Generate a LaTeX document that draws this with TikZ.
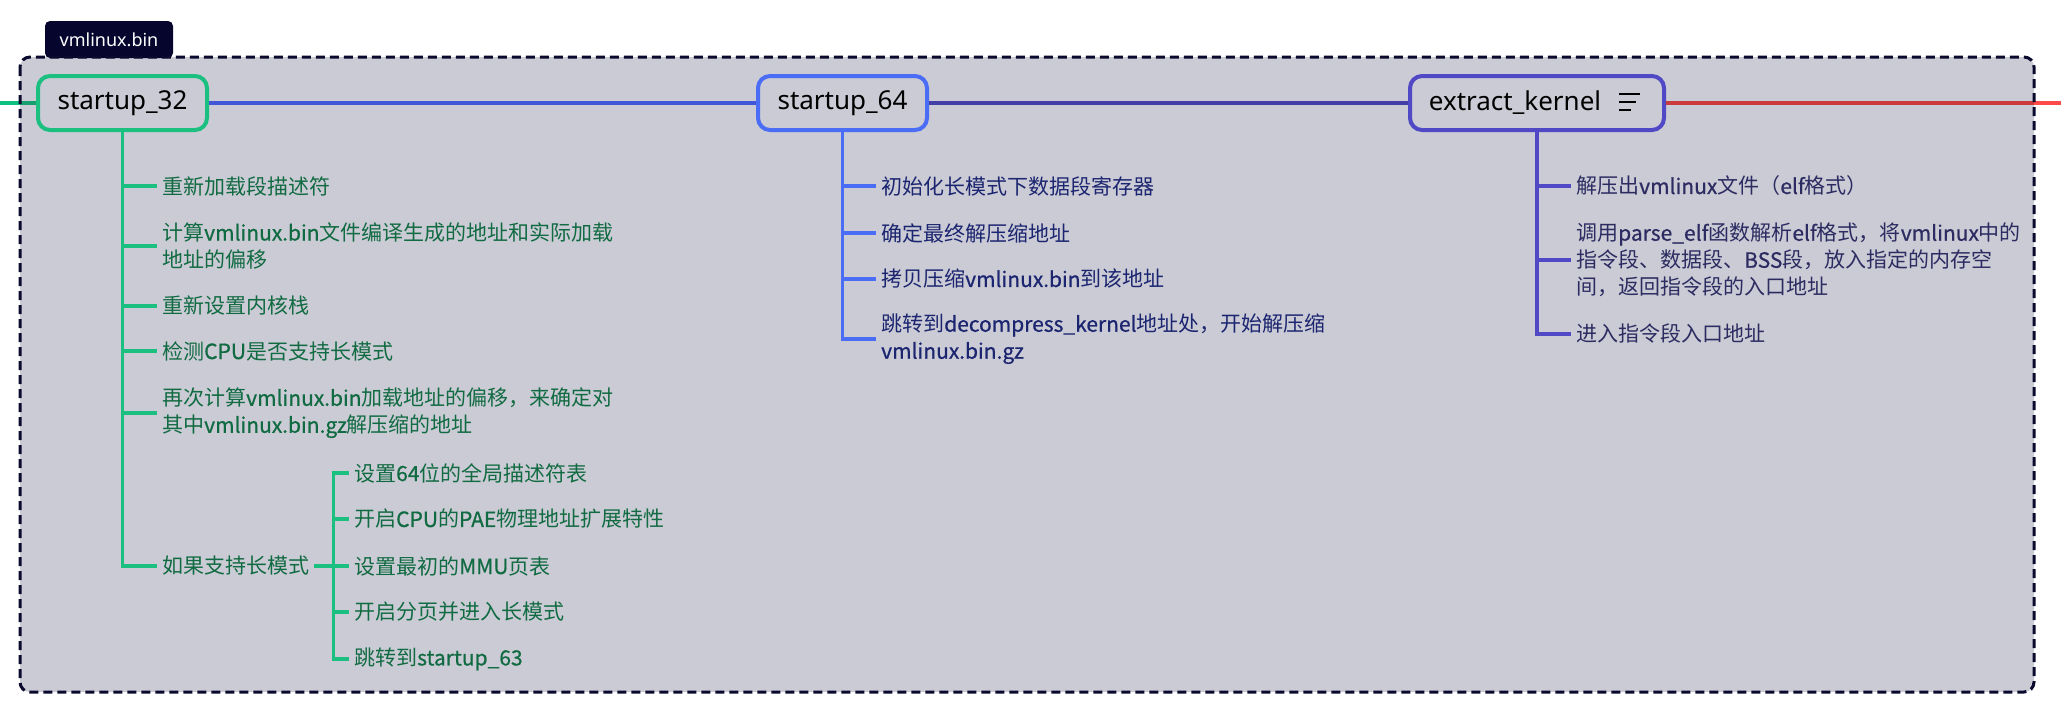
\documentclass[tikz,border=0pt]{standalone}
\usepackage{fontspec}
\setmainfont{Noto Sans CJK SC}
\newfontfamily\titlefont{Noto Sans}
\newfontfamily\latmfont{Noto Sans CJK SC}[FakeBold=0.7]
\newcommand{\lt}[1]{{\latmfont #1}}
\usetikzlibrary{calc}
\definecolor{framefill}{HTML}{CBCBD5}
\definecolor{framenavy}{HTML}{0A0A2E}
\definecolor{tabnavy}{HTML}{05052E}
\definecolor{gborder}{HTML}{1BBF80}
\definecolor{gout}{HTML}{10C080}
\definecolor{gin}{HTML}{17A06E}
\definecolor{gtext}{HTML}{116B42}
\definecolor{bborder}{HTML}{4B6DF5}
\definecolor{bspine}{HTML}{4058D8}
\definecolor{btext}{HTML}{1B2570}
\definecolor{eborder}{HTML}{5048C4}
\definecolor{espine}{HTML}{433EA8}
\definecolor{etext}{HTML}{2C2C62}
\definecolor{redin}{HTML}{CB3B3E}
\definecolor{redout}{HTML}{FF4A4A}
\tikzset{
  topic/.style={draw, rounded corners=12pt, line width=4pt, fill=framefill,
    minimum height=54pt, minimum width=169pt, inner sep=0pt, text=black,
    font=\titlefont\fontsize{26}{30}\selectfont},
  item/.style={anchor=west, align=left, inner xsep=5pt, inner ysep=0pt,
    font=\fontsize{21}{27}\selectfont},
  gitem/.style={item, text=gtext},
  bitem/.style={item, text=btext},
  eitem/.style={item, text=etext},
  spine/.style={line width=4pt},
  gbranch/.style={draw=gborder, line width=3.5pt},
  bbranch/.style={draw=bborder, line width=3.5pt},
  ebranch/.style={draw=eborder, line width=3.5pt},
  framebox/.style={rounded corners=10pt},
}
\begin{document}
\begin{tikzpicture}[x=1pt, y=-1pt]
\useasboundingbox (0,0) rectangle (2061,716);
% frame fill
\path[framebox, fill=framefill] (20,57) rectangle (2034,692);
% tab
\node (tab) [fill=tabnavy, rounded corners=5pt, minimum width=128pt, minimum height=37pt,
  inner sep=0pt, text=white, font=\titlefont\fontsize{18}{22}\selectfont] at (109,39.5) {vmlinux.bin};
% topic nodes
\node (s32) [topic, draw=gborder] at (122.5,103) {startup\_32};
\node (s64) [topic, draw=bborder] at (842.5,103) {startup\_64};
\node (ek) [topic, draw=eborder, minimum width=254pt] at (1537,103) {extract\_kernel\hspace*{44pt}};
\draw[line width=2pt, black] ($(ek.center)+(82,-9)$) -- ++(21,0);
\draw[line width=2pt, black] ($(ek.center)+(82,-1)$) -- ++(17,0);
\draw[line width=2pt, black] ($(ek.center)+(82,6.5)$) -- ++(12,0);
% spine coordinates
\coordinate (inL) at (0,103);
\coordinate (frL) at (20,103);
\coordinate (frR) at (2034,103);
\coordinate (outR) at (2061,103);
\draw[spine, gout] (inL) -- (frL);
\draw[spine, gin] (frL) -- (s32.west);
\draw[spine, bspine] (s32.east) -- (s64.west);
\draw[spine, espine] (s64.east) -- (ek.west);
\draw[spine, redin] (ek.east) -- (frR);
\draw[spine, redout] (frR) -- (outR);
% frame border
\draw[framebox, framenavy, line width=3pt, dash pattern=on 9pt off 5pt] (20,57) rectangle (2034,692);
% startup_32 items
\node (g1) [gitem] at (157,186) {重新加载段描述符};
\node (g2) [gitem] at (157,246) {计算\lt{vmlinux.bin}文件编译生成的地址和实际加载\\地址的偏移};
\node (g3) [gitem] at (157,306) {重新设置内核栈};
\node (g4) [gitem] at (157,351) {检测\lt{CPU}是否支持长模式};
\node (g5) [gitem] at (157,413) {再次计算\lt{vmlinux.bin}加载地址的偏移，来确定对\\其中\lt{vmlinux.bin.gz}解压缩的地址};
\node (g6) [gitem] at (157,566) {如果支持长模式};
\foreach \n in {g1,g2,g3,g4,g5,g6} \draw[gbranch] (s32.south) |- (\n.west);
% long mode sub items
\node (h1) [gitem] at (349,473) {设置\lt{64}位的全局描述符表};
\node (h2) [gitem] at (349,519) {开启\lt{CPU}的\lt{PAE}物理地址扩展特性};
\node (h3) [gitem] at (349,566) {设置最初的\lt{MMU}页表};
\node (h4) [gitem] at (349,612) {开启分页并进入长模式};
\node (h5) [gitem] at (349,659) {跳转到\lt{startup\_63}};
\coordinate (sj) at ($(g6.east)+(19,0)$);
\draw[gbranch] (g6.east) -- (h3.west);
\foreach \n in {h1,h2,h4,h5} \draw[gbranch] (sj) |- (\n.west);
% startup_64 items
\node (b1) [bitem] at (876,186) {初始化长模式下数据段寄存器};
\node (b2) [bitem] at (876,233) {确定最终解压缩地址};
\node (b3) [bitem] at (876,279) {拷贝压缩\lt{vmlinux.bin}到该地址};
\node (b4) [bitem] at (876,339) {跳转到\lt{decompress\_kernel}地址处，开始解压缩\\\lt{vmlinux.bin.gz}};
\foreach \n in {b1,b2,b3,b4} \draw[bbranch] (s64.south) |- (\n.west);
% extract_kernel items
\node (e1) [eitem] at (1571,186) {解压出\lt{vmlinux}文件（\lt{elf}格式）};
\node (e2) [eitem] at (1571,260) {调用\lt{parse\_elf}函数解析\lt{elf}格式，将\lt{vmlinux}中的\\指令段、数据段、\lt{BSS}段，放入指定的内存空\\间，返回指令段的入口地址};
\node (e3) [eitem] at (1571,334) {进入指令段入口地址};
\foreach \n in {e1,e2,e3} \draw[ebranch] (ek.south) |- (\n.west);
\end{tikzpicture}
\end{document}
